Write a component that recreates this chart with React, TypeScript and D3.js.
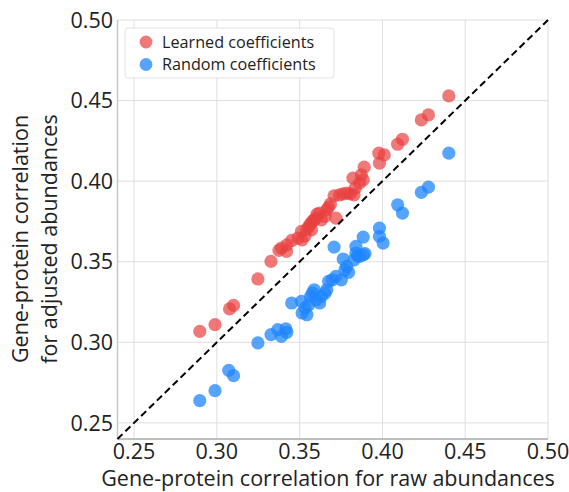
import React from "react";
import * as d3 from "d3";

const ticks = [0.25, 0.3, 0.35, 0.4, 0.45, 0.5];
const tickLabels = ["0.25", "0.30", "0.35", "0.40", "0.45", "0.50"];

const learnedX = [0.2897, 0.2989, 0.3077, 0.3101, 0.3248, 0.3327, 0.3375, 0.339, 0.3421, 0.3423, 0.3452, 0.3511, 0.3515, 0.3533, 0.3544, 0.3555, 0.3566, 0.3577, 0.3588, 0.3599, 0.3605, 0.3621, 0.3664, 0.3675, 0.3686, 0.3708, 0.3719, 0.3741, 0.3763, 0.3785, 0.3807, 0.3829, 0.3822, 0.3836, 0.3862, 0.3873, 0.3884, 0.389, 0.3978, 0.3982, 0.4011, 0.4092, 0.4121, 0.4235, 0.4278, 0.4401, 0.349, 0.3572, 0.3632, 0.3653];
const learnedY = [0.3068, 0.311, 0.3207, 0.3229, 0.3393, 0.3502, 0.357, 0.3585, 0.3564, 0.3605, 0.3632, 0.3688, 0.3636, 0.3661, 0.3702, 0.3719, 0.3736, 0.375, 0.376, 0.3771, 0.3795, 0.3802, 0.3822, 0.3839, 0.3859, 0.3909, 0.3771, 0.3915, 0.3921, 0.3926, 0.3921, 0.3915, 0.4019, 0.3957, 0.3988, 0.4039, 0.4008, 0.4087, 0.4174, 0.4112, 0.4163, 0.4229, 0.426, 0.438, 0.4411, 0.4529, 0.3647, 0.3698, 0.376, 0.3781];

const randomX = [0.2897, 0.2989, 0.3072, 0.3101, 0.3248, 0.3327, 0.3368, 0.339, 0.3417, 0.3423, 0.3452, 0.3511, 0.3515, 0.3533, 0.3544, 0.3555, 0.3566, 0.3577, 0.3588, 0.3599, 0.3621, 0.3632, 0.3653, 0.3664, 0.3675, 0.3697, 0.3719, 0.3752, 0.3774, 0.3785, 0.3796, 0.3763, 0.3829, 0.384, 0.3851, 0.3862, 0.3884, 0.3895, 0.384, 0.3884, 0.3708, 0.3982, 0.3982, 0.4004, 0.4092, 0.4121, 0.4235, 0.4278, 0.4401];
const randomY = [0.2638, 0.27, 0.2826, 0.2793, 0.2996, 0.3048, 0.3079, 0.3037, 0.3083, 0.3062, 0.3244, 0.3254, 0.3182, 0.3213, 0.3171, 0.3233, 0.3285, 0.3306, 0.3326, 0.3264, 0.3244, 0.3285, 0.3306, 0.3326, 0.3378, 0.3388, 0.3409, 0.3388, 0.345, 0.3471, 0.3434, 0.3517, 0.3512, 0.3554, 0.3537, 0.3533, 0.3543, 0.355, 0.3595, 0.3653, 0.3591, 0.3709, 0.3657, 0.3616, 0.3853, 0.3802, 0.393, 0.3963, 0.4174];

const domain = [0.24, 0.5];
const seriesNames = ["Learned coefficients", "Random coefficients"];
const seriesColors = ["#e8403f", "#1f85ff"];
const seriesOpacity = [0.7, 0.75];

const W = 569;
const H = 492;
const FONT = "'Open Sans', 'Noto Sans', sans-serif";

export default function App() {
  const x = d3.scaleLinear().domain(domain).range([117.5, 548]);
  const y = d3.scaleLinear().domain(domain).range([439, 20]);
  const r = 6.6;
  const series = [
    { xs: learnedX, ys: learnedY },
    { xs: randomX, ys: randomY },
  ];
  const diag = d3.line<number>().x((d) => x(d)).y((d) => y(d))(domain) || "";

  return (
    <svg width={W} height={H} style={{ position: "absolute", left: 0, top: 0, background: "#fff" }} fontFamily={FONT}>
      {ticks.map((t) => (
        <g key={"g" + t}>
          <line x1={x(t)} x2={x(t)} y1={y(domain[0])} y2={y(domain[1])} stroke="#dedede" strokeWidth={1} />
          <line x1={x(domain[0])} x2={x(domain[1])} y1={y(t)} y2={y(t)} stroke="#dedede" strokeWidth={1} />
        </g>
      ))}
      <line x1={x(domain[0])} x2={x(domain[0])} y1={y(domain[0])} y2={y(domain[1])} stroke="#c8c8c8" strokeWidth={1.5} />
      <line x1={x(domain[0])} x2={x(domain[1])} y1={y(domain[0])} y2={y(domain[0])} stroke="#aaaaaa" strokeWidth={1.5} />
      {series.map((s, si) =>
        s.xs.map((xv, i) => (
          <circle key={si + "-" + i} cx={x(xv)} cy={y(s.ys[i])} r={r} fill={seriesColors[si]} fillOpacity={seriesOpacity[si]} />
        ))
      )}
      <path d={diag} stroke="#000" strokeWidth={2} strokeDasharray="7,4" fill="none" />
      {ticks.map((t, i) => (
        <text key={"xt" + t} x={x(t)} y={459} textAnchor="middle" fontSize={21.5} fill="#222">
          {tickLabels[i]}
        </text>
      ))}
      {ticks.map((t, i) => (
        <text key={"yt" + t} x={113} y={y(t)} dy="0.36em" textAnchor="end" fontSize={21.5} fill="#222">
          {tickLabels[i]}
        </text>
      ))}
      <text x={328} y={486} textAnchor="middle" fontSize={21.5} fill="#222">
        Gene-protein correlation for raw abundances
      </text>
      <g transform="translate(28,239) rotate(-90)">
        <text x={0} y={0} textAnchor="middle" fontSize={21.5} fill="#222">Gene-protein correlation</text>
        <text x={0} y={29} textAnchor="middle" fontSize={21.5} fill="#222">for adjusted abundances</text>
      </g>
      <rect x={125} y={28} width={209} height={50} rx={3} fill="#fff" fillOpacity={0.9} stroke="#e2e2e2" />
      {seriesNames.map((n, i) => (
        <g key={n}>
          <circle cx={146} cy={42 + i * 22.5} r={6.4} fill={seriesColors[i]} fillOpacity={seriesOpacity[i]} />
          <text x={162} y={42 + i * 22.5} dy="0.36em" fontSize={16.2} fill="#222">{n}</text>
        </g>
      ))}
    </svg>
  );
}
